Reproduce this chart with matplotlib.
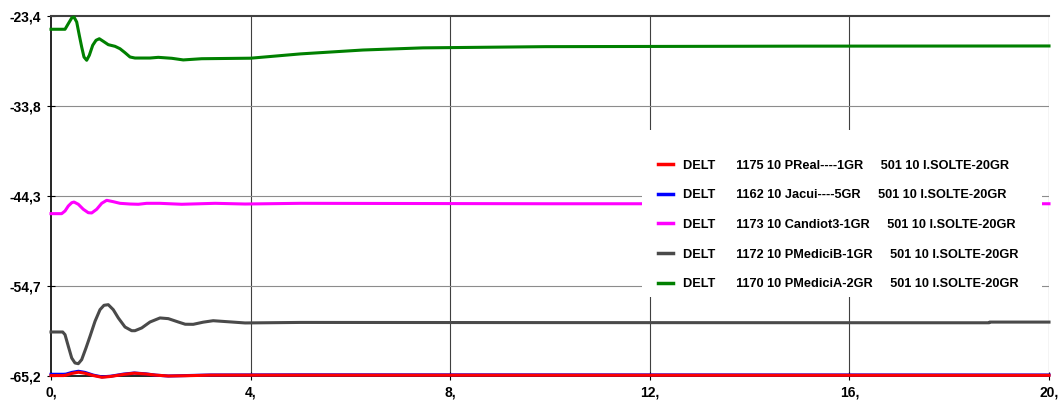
import matplotlib
matplotlib.use('Agg')
import matplotlib.pyplot as plt
from matplotlib.lines import Line2D
from matplotlib.patches import Rectangle

plt.rcParams['font.family'] = ['Liberation Sans', 'DejaVu Sans']
plt.rcParams['font.weight'] = 'bold'

# values (time in s, angle in degrees)
t_green = [0.0, 0.234, 0.281, 0.347, 0.415, 0.461, 0.515, 0.567, 0.615, 0.661, 0.715, 0.768,
           0.836, 0.902, 0.968, 1.048, 1.148, 1.283, 1.383, 1.483, 1.583, 1.683, 1.984, 2.15,
           2.42, 2.65, 3.02, 4.0, 5.0, 6.25, 7.45, 8.0, 9.9, 14.97, 20.0]
v_green = [-24.94, -24.94, -24.94, -24.29, -23.63, -23.52, -24.10, -25.64, -27.0, -28.16, -28.54, -27.96,
           -26.8, -26.22, -26.04, -26.34, -26.73, -26.92, -27.2, -27.66, -28.16, -28.28, -28.28, -28.2,
           -28.31, -28.5, -28.36, -28.3, -27.8, -27.35, -27.1, -27.07, -26.96, -26.9, -26.88]

t_magenta = [0.0, 0.214, 0.281, 0.347, 0.415, 0.461, 0.547, 0.647, 0.747, 0.816, 0.916, 1.016,
             1.116, 1.248, 1.383, 1.583, 1.75, 1.918, 2.18, 2.62, 3.29, 3.89, 5.0, 10.0, 20.0]
v_magenta = [-46.35, -46.35, -46.04, -45.46, -45.08, -45.0, -45.26, -45.84, -46.24, -46.27, -45.84, -45.15,
             -44.80, -44.96, -45.15, -45.23, -45.26, -45.15, -45.15, -45.26, -45.15, -45.23, -45.15,
             -45.2, -45.2]

t_gray = [0.0, 0.234, 0.281, 0.347, 0.415, 0.481, 0.547, 0.615, 0.701, 0.782, 0.882, 0.982,
          1.062, 1.148, 1.248, 1.349, 1.483, 1.617, 1.683, 1.818, 1.984, 2.184, 2.351, 2.551,
          2.69, 2.85, 3.05, 3.25, 3.89, 5.0, 10.0, 18.8, 18.81, 20.0]
v_gray = [-60.09, -60.09, -60.40, -61.75, -63.11, -63.69, -63.77, -63.30, -61.95, -60.59, -58.85, -57.50,
          -56.99, -56.92, -57.50, -58.46, -59.51, -59.94, -59.94, -59.62, -58.93, -58.46, -58.54, -58.93,
          -59.19, -59.2, -58.95, -58.78, -59.04, -58.98, -59.0, -59.02, -58.94, -58.94]

t_blue = [0.0, 0.25, 0.30, 0.42, 0.55, 0.68, 0.85, 1.02, 1.2, 1.45, 1.67, 1.9, 2.1, 2.35, 2.7,
          3.2, 5.0, 20.0]
v_blue = [-65.0, -65.0, -64.98, -64.78, -64.65, -64.78, -65.1, -65.3, -65.22, -64.98, -64.85,
          -64.95, -65.1, -65.2, -65.15, -65.08, -65.06, -65.08]

t_red = [0.0, 0.25, 0.30, 0.42, 0.55, 0.68, 0.85, 1.02, 1.2, 1.45, 1.67, 1.9, 2.1, 2.35, 2.7,
         3.2, 5.0, 20.0]
v_red = [-65.15, -65.15, -65.1, -64.9, -64.76, -64.88, -65.15, -65.35, -65.25, -65.02, -64.87,
         -64.97, -65.1, -65.2, -65.17, -65.1, -65.1, -65.12]

labels = ['DELT      1175 10 PReal----1GR     501 10 I.SOLTE-20GR',
          'DELT      1162 10 Jacui----5GR     501 10 I.SOLTE-20GR',
          'DELT      1173 10 Candiot3-1GR     501 10 I.SOLTE-20GR',
          'DELT      1172 10 PMediciB-1GR     501 10 I.SOLTE-20GR',
          'DELT      1170 10 PMediciA-2GR     501 10 I.SOLTE-20GR']
colors = ['#ff0000', '#0000ff', '#ff00ff', '#4a4a4a', '#008000']

x_ticks = [0, 4, 8, 12, 16, 20]
x_labels = ['0,', '4,', '8,', '12,', '16,', '20,']
y_ticks = [-65.2, -54.75, -44.3, -33.85, -23.4]
y_labels = ['-65,2', '-54,7', '-44,3', '-33,8', '-23,4']

fig = plt.figure(figsize=(10.6, 4.03), dpi=100)
ax = fig.add_axes([51 / 1060, 1 - 376 / 403, 998 / 1060, 360 / 403])

lw = 2.2
ax.plot(t_green, v_green, color=colors[4], lw=lw, clip_on=False, zorder=3)
ax.plot(t_gray, v_gray, color=colors[3], lw=lw, clip_on=False, zorder=3)
ax.plot(t_magenta, v_magenta, color=colors[2], lw=lw, clip_on=False, zorder=3)
ax.plot(t_blue, v_blue, color=colors[1], lw=lw, clip_on=False, zorder=3)
ax.plot(t_red, v_red, color=colors[0], lw=lw, clip_on=False, zorder=3)

ax.set_xlim(0, 20)
ax.set_ylim(-65.2, -23.4)
ax.set_xticks(x_ticks)
ax.set_xticklabels(x_labels, fontsize=10, fontweight='bold')
ax.set_yticks(y_ticks)
ax.set_yticklabels(y_labels, fontsize=10, fontweight='bold')
ax.tick_params(direction='inout', length=6, width=0.8, color='black', pad=4)

for xv in x_ticks[1:]:
    ax.axvline(xv, color='#404040', lw=0.8, zorder=1)
for yv in y_ticks[1:-1]:
    ax.axhline(yv, color='#8c8c8c', lw=0.8, zorder=1)

ax.spines['left'].set_color('black')
ax.spines['left'].set_linewidth(1.2)
ax.spines['bottom'].set_color('black')
ax.spines['bottom'].set_linewidth(1.2)
ax.spines['top'].set_color('#404040')
ax.spines['top'].set_linewidth(1.5)
ax.spines['right'].set_visible(False)

# white panel behind the legend, it hides the grid and the curves
ax.add_patch(Rectangle((0.592, 0.219), 0.401, 0.464, transform=ax.transAxes,
                       facecolor='white', edgecolor='none', zorder=4, clip_on=False))

handles = [Line2D([], [], color=c, lw=2.5) for c in colors]
leg = ax.legend(handles, labels, loc='upper left', bbox_to_anchor=(0.608, 0.601),
                borderaxespad=0, borderpad=0, frameon=False, labelspacing=1.38,
                handlelength=1.2, handletextpad=0.75,
                prop={'size': 9.2, 'weight': 'bold'})
leg.set_zorder(5)

fig.savefig('out.png', dpi=100)
